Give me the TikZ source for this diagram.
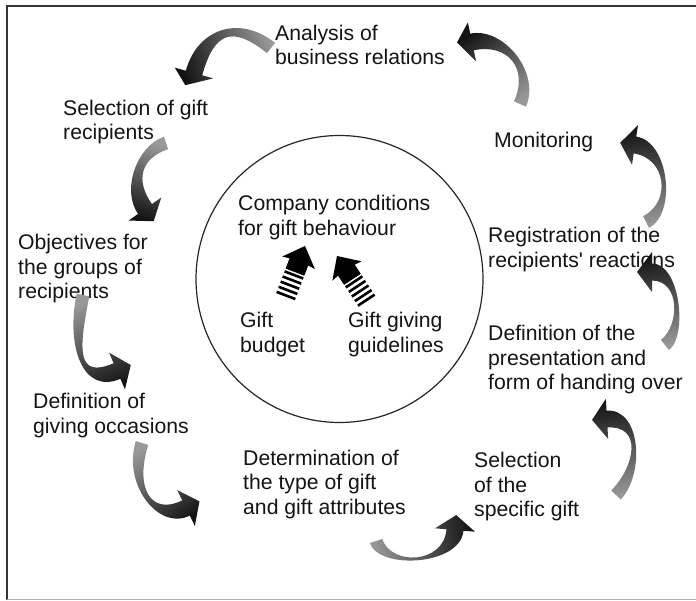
\documentclass[tikz,border=0pt]{standalone}
\usepackage{fontspec}
\setmainfont{Liberation Sans}
\usetikzlibrary{calc}

\tikzset{
  steptext/.style={anchor=north west, inner sep=0pt, align=left, text=black!92,
    font=\fontsize{21.2pt}{24.7pt}\selectfont},
  ribbon/.style={top color=black!92, bottom color=black!40, draw=none},
  stripe/.style={line width=2.6pt, draw=black, line cap=butt},
}

% ribbon half widths (tail end, head end), arrow head half width and length
\newcommand\ribA{6.5pt}
\newcommand\ribB{8.5pt}
\newcommand\headW{20pt}
\newcommand\headL{15pt}

% curved ribbon arrow along the centre line (#1) .. (#2) and (#3) .. (#4);
% #5 turns the tip away from the tangent, #6 is the shading angle
\newcommand\bentarrow[6]{%
  \pgfmathsetmacro\tipang{180+#5}%
  \shade[ribbon, shading angle=#6]
    ($(#1)!\ribA!90:(#2)$) .. controls ($(#2)!\ribA!-90:(#1)$) and ($(#3)!\ribB!90:(#4)$) .. ($(#4)!\ribB!-90:(#3)$)
    -- ($(#4)!\headW!-90:(#3)$)
    -- ($(#4)!\headL!\tipang:(#3)$)
    -- ($(#4)!\headW!90:(#3)$)
    -- ($(#4)!\ribB!90:(#3)$) .. controls ($(#3)!\ribB!-90:(#4)$) and ($(#2)!\ribA!90:(#1)$) .. ($(#1)!\ribA!-90:(#2)$)
    -- cycle;}

% black arrow with a striped tail, tip at #1, pointing in direction #2
\newcommand\stripedarrow[2]{%
  \begin{scope}[shift={(#1)}, rotate=#2]
    \fill[black] (0,0) -- (-18,17.5) -- (-17,10) -- (-28,10) -- (-28,-10) -- (-17,-10) -- (-18,-17.5) -- cycle;
    \foreach \k in {31,36.5,42,47.5,53} \draw[stripe] (-\k,-10) -- (-\k,10);
  \end{scope}}

\begin{document}
\begin{tikzpicture}[x=1pt, y=1pt]
  \useasboundingbox (0,0) rectangle (696,-601);
  \fill[white] (0,0) rectangle (696,-601);

  % frame
  \draw[line width=2pt, black!80] (6.8,-600) -- (6.8,-5.8) -- (696,-5.8);
  \draw[line width=1.3pt, black!30] (6.8,-599.5) -- (696,-599.5);

  % central circle
  \node[draw=black!85, line width=1.2pt, circle, minimum size=287pt, inner sep=0pt] (core) at (339.5,-279) {};

  % process steps
  \node[steptext] (analysis) at (275,-24.7) {Analysis of\\business relations};
  \node[steptext] (selrec) at (63,-99.7) {Selection of gift\\recipients};
  \node[steptext] (objectives) at (18,-234) {Objectives for\\the groups of\\recipients};
  \node[steptext] (occasions) at (33,-393) {Definition of\\giving occasions};
  \node[steptext] (determination) at (243,-449.7) {Determination of\\the type of gift\\and gift attributes};
  \node[steptext] (selgift) at (474,-452) {Selection\\of the\\specific gift};
  \node[steptext] (presentation) at (488,-325) {Definition of the\\presentation and\\form of handing over};
  \node[steptext] (registration) at (488,-227) {Registration of the\\recipients\textquotesingle{} reactions};
  \node[steptext] (monitoring) at (494,-132) {Monitoring};

  % inside the circle
  \node[steptext] (conditions) at (238,-195) {Company conditions\\for gift behaviour};
  \node[steptext] (budget) at (240,-312) {Gift\\budget};
  \node[steptext] (guidelines) at (348,-312) {Gift giving\\guidelines};

  \stripedarrow{305,-246}{69}
  \stripedarrow{337,-256}{123.5}

  % curved arrows of the cycle
  \bentarrow{271,-48}{236,-20}{206,-30}{194,-73}{-20}{108}
  \bentarrow{166,-143}{139,-152}{128,-185}{145,-209}{0}{162}
  \bentarrow{83,-295}{72,-349}{80,-387}{117,-371}{0}{204}
  \bentarrow{142,-443}{128.5,-486}{154.5,-523.5}{186,-508}{0}{214}
  \bentarrow{376,-541}{385,-568}{452,-565}{455,-530}{0}{278}
  \bentarrow{616,-495}{640,-470}{642,-417}{607,-419}{0}{7}
  \bentarrow{665,-345}{684,-330}{680,-272}{652,-272}{0}{10}
  \bentarrow{646,-222}{674,-208}{668,-150}{635,-145}{0}{8}
  \bentarrow{520,-104}{535,-70}{505,-35}{472,-42}{-10}{38}
\end{tikzpicture}
\end{document}
